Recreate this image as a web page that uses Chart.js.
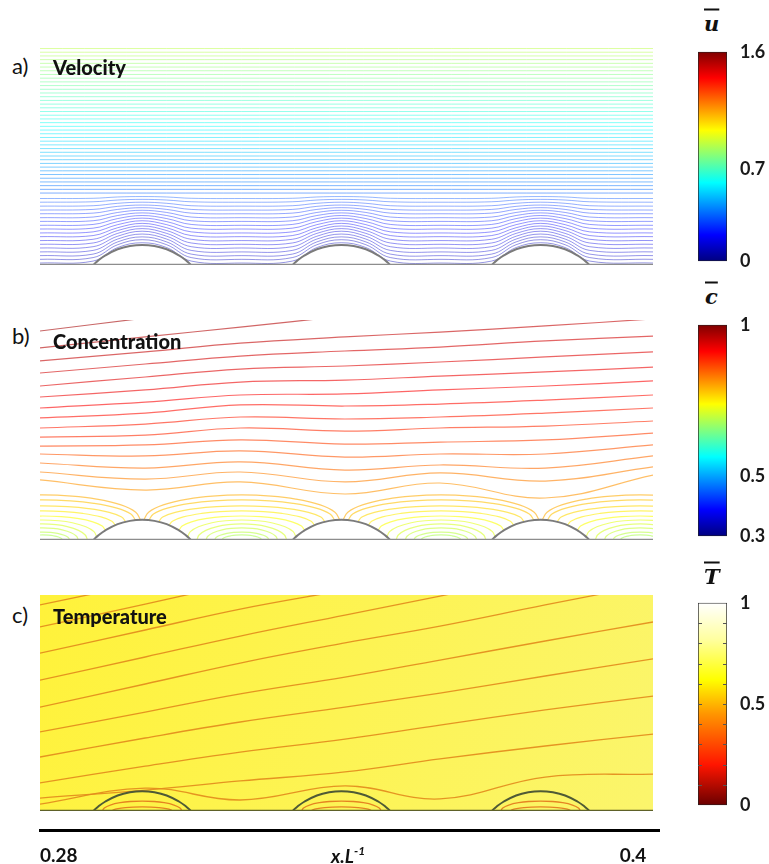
<!DOCTYPE html>
<html>
<head>
<meta charset="utf-8">
<script src="https://cdn.jsdelivr.net/npm/chart.js@4.4.1/dist/chart.umd.min.js"></script>
<style>
  body { margin: 0; background: #fff; }
  #page { position: relative; width: 769px; height: 864px; overflow: hidden; font-family: Lato, "Open Sans", sans-serif; color: #111; }
  canvas { position: absolute; }
  .lbl { position: absolute; transform: translateY(-50%); white-space: nowrap; line-height: 1; }
  .tag { font-size: 22px; }
  .name { font-size: 20px; font-weight: 900; }
  .sym { font-family: "DejaVu Serif", serif; font-weight: bold; font-style: italic; font-size: 21px; text-decoration: overline; }
  .axt { font-size: 19px; font-weight: bold; font-style: italic; }
</style>
</head>
<body>
<div id="page">
  <canvas id="velChart" width="621" height="226" style="left:36px;top:43px"></canvas>
  <canvas id="concChart" width="621" height="228" style="left:36px;top:316px"></canvas>
  <canvas id="tempChart" width="621" height="224" style="left:36px;top:591px"></canvas>
  <canvas id="velBar" width="79" height="241" style="left:690px;top:36px"></canvas>
  <canvas id="concBar" width="79" height="243" style="left:690px;top:309px"></canvas>
  <canvas id="tempBar" width="79" height="234" style="left:690px;top:587px"></canvas>
  <canvas id="axisChart" width="634" height="64" style="left:26px;top:798px"></canvas>

  <div class="lbl tag" style="left:12px;top:66px">a)</div>
  <div class="lbl name" style="left:53px;top:67px">Velocity</div>
  <div class="lbl tag" style="left:12px;top:336px">b)</div>
  <div class="lbl name" style="left:53px;top:341px">Concentration</div>
  <div class="lbl tag" style="left:12px;top:615px">c)</div>
  <div class="lbl name" style="left:53px;top:616px">Temperature</div>
  <div class="lbl sym" style="left:704px;top:23px">u</div>
  <div class="lbl sym" style="left:705px;top:296px">c</div>
  <div class="lbl sym" style="left:704px;top:576px">T</div>
  <div class="lbl axt" style="left:331px;top:855px">x.L<sup style="font-size:12px">-1</sup></div>
</div>
<script>
// ---------- geometry of the wall (x in x.L^-1, heights in % of the window) ----------
const bumpCentres = [0.300, 0.339, 0.378];
const bumpHalfWidth = 0.0096;
const bumpProfileU = [-1, -0.9, -0.75, -0.5, -0.25, 0, 0.25, 0.5, 0.75, 0.9, 1];
const bumpProfileH = [0, 2.0, 4.4, 7.2, 8.7, 9.2, 8.7, 7.2, 4.4, 2.0, 0];
// half-ellipse used for the closed contour loops
const archProfileU = [-1, -0.95, -0.8, -0.55, -0.3, 0, 0.3, 0.55, 0.8, 0.95, 1];
const archProfileV = [0, 0.31, 0.6, 0.835, 0.954, 1, 0.954, 0.835, 0.6, 0.31, 0];

// ---------- a) velocity streamlines ----------
const velGridX = [0.280, 0.2904, 0.2952, 0.300, 0.3048, 0.3096, 0.3195, 0.3294, 0.3342, 0.339,
                  0.3438, 0.3486, 0.3585, 0.3684, 0.3732, 0.378, 0.3828, 0.3876, 0.400];
const velGridKind = [0, 1, 2, 3, 2, 1, 0, 1, 2, 3, 2, 1, 0, 1, 2, 3, 2, 1, 0]; // gap, foot, flank, crest
const velWavy = [
  [0.9, 1.8, 8.0, 10.2], [2.6, 3.4, 9.3, 11.6], [4.3, 5.0, 10.6, 12.9], [6.0, 6.7, 11.9, 14.2],
  [7.8, 8.4, 13.2, 15.5], [9.5, 10.1, 14.5, 16.7], [11.2, 11.8, 15.8, 17.9], [13.0, 13.5, 17.1, 19.1],
  [14.7, 15.2, 18.5, 20.3], [16.5, 16.9, 19.9, 21.5], [18.2, 18.6, 21.3, 22.7], [20.0, 20.3, 22.7, 23.9],
  [21.7, 22.0, 24.1, 25.1], [23.5, 23.8, 25.5, 26.3], [25.2, 25.5, 26.9, 27.5], [27.0, 27.2, 28.3, 28.8],
  [28.8, 29.0, 29.8, 30.1], [30.5, 30.6, 31.2, 31.4]
];
const velFlat = [33.0, 34.7, 36.4, 38.1, 39.8, 41.5, 43.2, 44.9, 46.6, 48.3, 50.0, 51.7, 53.4, 55.1,
  56.8, 58.5, 60.2, 61.9, 63.6, 65.3, 67.0, 68.7, 70.4, 72.1, 73.8, 75.5, 77.2, 78.9, 80.6, 82.3,
  84.0, 85.7, 87.4, 89.1, 90.8, 92.5, 94.2, 95.9, 97.6, 99.3];
const velSpeedBottom = 0.08, velSpeedTop = 0.9;   // u at the wall and at the top of the window
const velTicks = [0, 0.7, 1.6];

// ---------- b) concentration contours ----------
const contGridX = [0.280, 0.3006, 0.3192, 0.3397, 0.3583, 0.3789, 0.400];
const concLines = [
  [95.0, 100.9, null, null, null, null, null],
  [87.3, 92.3, 96.8, 101.8, null, null, null],
  [81.4, 85.5, 89.5, 92.3, 94.5, 97.3, 100.5],
  [75.9, 80.0, 83.6, 85.9, 87.7, 90.5, 92.7],
  [70.0, 74.1, 77.7, 79.1, 80.9, 83.2, 85.5],
  [65.0, 68.2, 71.8, 72.7, 74.5, 76.4, 78.6],
  [60.0, 62.7, 65.9, 66.4, 68.2, 70.0, 72.3],
  [55.5, 57.7, 61.4, 60.9, 61.8, 63.6, 65.9],
  [50.9, 52.7, 55.9, 55.0, 55.9, 57.7, 60.0],
  [46.8, 47.7, 50.9, 49.5, 50.9, 51.8, 54.1],
  [42.7, 43.2, 45.5, 43.6, 44.5, 45.5, 48.6],
  [39.1, 38.2, 40.5, 37.7, 39.1, 39.1, 43.2],
  [35.0, 32.7, 35.5, 31.8, 34.1, 32.7, 38.2],
  [30.9, 27.7, 30.9, 26.4, 30.5, 26.8, 33.2],
  [27.3, 22.7, 26.4, 20.9, 25.9, 19.1, 29.5]
];
const concLineLevels = [0.975, 0.965, 0.955, 0.945, 0.935, 0.925, 0.915, 0.905, 0.895, 0.885, 0.87, 0.855, 0.84, 0.825, 0.81];
const concGapCentres = [0.2805, 0.3195, 0.3585, 0.3975];
const concArches = [ // [apex, half width, foot height]
  [2.3, 0.0039, 0], [3.6, 0.0053, 0], [5.5, 0.0070, 0], [7.3, 0.0088, 0], [9.1, 0.0106, 1.4],
  [10.9, 0.0123, 4.3], [13.2, 0.0143, 6.4], [15.5, 0.0163, 8.2], [18.2, 0.0182, 9.0], [20.5, 0.0192, 9.1]
];
const concArchLevels = [0.68, 0.69, 0.70, 0.71, 0.72, 0.735, 0.75, 0.765, 0.78, 0.795];
const concTicks = [0.3, 0.5, 1];

// ---------- c) temperature contours ----------
const tempLines = [
  [95.4, 105.6, null, null, null, null, null],
  [85.2, 95.8, 105.6, null, null, null, null],
  [73.1, 83.8, 93.5, 102.3, null, null, null],
  [60.6, 71.3, 81.0, 90.7, 99.5, 109.3, null],
  [48.1, 58.8, 68.5, 77.8, 85.6, 95.4, 105.1],
  [36.6, 45.8, 54.2, 62.0, 69.9, 78.7, 87.5],
  [25.0, 33.8, 41.2, 48.1, 54.6, 62.5, 70.4],
  [13.0, 20.8, 27.3, 33.3, 39.8, 46.8, 53.2],
  [6.0, 9.7, 13.9, 18.1, 24.1, 30.1, 35.6],
  [3.2, 10.6, 5.1, 11.6, 5.6, 15.7, 17.1]
];
const tempArcs = [[4.6, 0.0078], [1.9, 0.0059]]; // loops inside each element: [apex, half width]
const tempTicks = [0, 0.5, 1];
const tempMinorTicks = [0.1, 0.2, 0.3, 0.4, 0.5, 0.6, 0.7, 0.8, 0.9];

const jetStops = [[0, '#00007f'], [0.125, '#0000ff'], [0.375, '#00ffff'], [0.625, '#ffff00'], [0.875, '#ff0000'], [1, '#7f0000']];
const hotStops = [[0, '#6a0000'], [0.2, '#ff1500'], [0.45, '#ff9500'], [0.62, '#ffff00'], [0.82, '#ffffa0'], [1, '#ffffff']];

// ---------- helpers ----------
const clamp = v => Math.max(0, Math.min(1, v));
function jet(t, alpha) {
  const r = clamp(1.5 - Math.abs(4 * t - 3)), g = clamp(1.5 - Math.abs(4 * t - 2)), b = clamp(1.5 - Math.abs(4 * t - 1));
  return `rgba(${Math.round(r * 255)},${Math.round(g * 255)},${Math.round(b * 255)},${alpha})`;
}
function velColour(h) {
  const u = velSpeedBottom + (velSpeedTop - velSpeedBottom) * h / 100;
  return jet(u / 1.6, h < 32 ? 0.42 : 0.5);
}
const concColour = c => jet((c - 0.3) / 0.7, 0.6);
const series = (xs, ys) => xs.map((x, i) => ({ x, y: ys[i] }));

function stream(data, colour, width) {
  return { data, borderColor: colour, borderWidth: width || 1, tension: 0.4, spanGaps: false };
}
function baseline(colour) {
  return { data: [{ x: 0.28, y: 0 }, { x: 0.4, y: 0 }], borderColor: colour, borderWidth: 2.5, tension: 0 };
}
function bump(c, line, fillColour) {
  return {
    data: bumpProfileU.map((u, i) => ({ x: c + u * bumpHalfWidth, y: bumpProfileH[i] })),
    borderColor: line, borderWidth: 2, tension: 0.4,
    fill: fillColour ? 'origin' : false, backgroundColor: fillColour || 'transparent'
  };
}
function arch(centre, apex, half, foot) {
  return archProfileU.map((u, i) => ({ x: centre + u * half, y: foot + (apex - foot) * archProfileV[i] }));
}

const panelBg = {
  id: 'panelBg',
  beforeDatasetsDraw(chart, args, opts) {
    if (!opts || !opts.from) return;
    const { ctx, chartArea: a } = chart;
    const g = ctx.createLinearGradient(a.left, a.top, a.right, a.bottom);
    g.addColorStop(0, opts.from);
    g.addColorStop(1, opts.to);
    ctx.save();
    ctx.fillStyle = g;
    ctx.fillRect(a.left, a.top, a.width, a.height);
    ctx.restore();
  }
};

// little inner tick marks on both edges of a colour bar
const minorTicks = {
  id: 'minorTicks',
  afterDatasetsDraw(chart, args, opts) {
    if (!opts || !opts.values) return;
    const { ctx, chartArea: a, scales: { y } } = chart;
    ctx.save();
    ctx.strokeStyle = '#555';
    ctx.lineWidth = 1;
    ctx.beginPath();
    opts.values.forEach(v => {
      const py = Math.round(y.getPixelForValue(v)) + 0.5;
      ctx.moveTo(a.left, py); ctx.lineTo(a.left + 4, py);
      ctx.moveTo(a.right - 4, py); ctx.lineTo(a.right, py);
    });
    ctx.stroke();
    ctx.restore();
  }
};

function panelChart(id, datasets, bg) {
  return new Chart(document.getElementById(id), {
    type: 'line',
    data: { datasets },
    options: {
      animation: false, responsive: false, events: [],
      layout: { padding: 4 },
      elements: { point: { radius: 0 }, line: { fill: false } },
      plugins: { legend: { display: false }, tooltip: { enabled: false }, panelBg: bg || false },
      scales: {
        x: { type: 'linear', min: 0.28, max: 0.4, display: false },
        y: { min: 0, max: 100, display: false }
      }
    },
    plugins: [panelBg]
  });
}

function colourBar(id, min, max, ticks, stops, minor) {
  return new Chart(document.getElementById(id), {
    type: 'bar',
    data: {
      labels: [''],
      datasets: [{
        data: [[min, max]],
        backgroundColor: ctx => {
          const a = ctx.chart.chartArea;
          if (!a) return '#ccc';
          const g = ctx.chart.ctx.createLinearGradient(0, a.bottom, 0, a.top);
          stops.forEach(([p, c]) => g.addColorStop(p, c));
          return g;
        },
        borderColor: '#222', borderWidth: 1, borderSkipped: false,
        barPercentage: 1, categoryPercentage: 1
      }]
    },
    options: {
      animation: false, responsive: false, events: [],
      layout: { padding: { left: 8, top: 10, bottom: 10, right: 0 } },
      plugins: { legend: { display: false }, tooltip: { enabled: false }, minorTicks: minor ? { values: minor } : false },
      scales: {
        x: { display: false },
        y: {
          position: 'right', min, max,
          afterBuildTicks: s => { s.ticks = ticks.map(v => ({ value: v })); },
          afterFit: s => { s.width = 42; },
          grid: { display: false }, border: { display: false },
          ticks: { color: '#1a1a1a', padding: 5, font: { family: 'Lato', weight: 'bold', size: 18 }, callback: v => String(v) }
        }
      }
    },
    plugins: [minorTicks]
  });
}

// ---------- a) ----------
const velSets = [baseline('#8d8d8d')];
bumpCentres.forEach(c => velSets.push(bump(c, '#7b7b7b', '#ffffff')));
velWavy.forEach(row => velSets.push(stream(series(velGridX, velGridKind.map(k => row[k])), velColour(row[0]))));
velFlat.forEach(h => velSets.push(stream([{ x: 0.28, y: h }, { x: 0.4, y: h }], velColour(h))));
panelChart('velChart', velSets);

// ---------- b) ----------
const concSets = [baseline('#8d8d8d')];
bumpCentres.forEach(c => concSets.push(bump(c, '#7b7b7b', '#ffffff')));
concLines.forEach((ys, i) => concSets.push(stream(series(contGridX, ys), concColour(concLineLevels[i]), 1.2)));
concGapCentres.forEach(gc => concArches.forEach(([apex, half, foot], i) =>
  concSets.push(stream(arch(gc, apex, half, foot), concColour(concArchLevels[i]), 1.2))));
panelChart('concChart', concSets);

// ---------- c) ----------
const tempSets = [baseline('#5e6128')];
bumpCentres.forEach(c => tempSets.push(bump(c, '#4f5a35', null)));
tempLines.forEach(ys => tempSets.push(stream(series(contGridX, ys), 'rgba(226,138,28,0.9)', 1.3)));
bumpCentres.forEach(c => tempArcs.forEach(([apex, half]) =>
  tempSets.push(stream(arch(c, apex, half, 0), 'rgba(226,120,28,0.9)', 1.3))));
panelChart('tempChart', tempSets, { from: '#fff23a', to: '#fbf56c' });

// ---------- colour bars ----------
colourBar('velBar', 0, 1.6, velTicks, jetStops);
colourBar('concBar', 0.3, 1, concTicks, jetStops);
colourBar('tempBar', 0, 1, tempTicks, hotStops, tempMinorTicks);

// ---------- shared x axis ----------
const axisTicks = [0.28, 0.4];
new Chart(document.getElementById('axisChart'), {
  type: 'line',
  data: { datasets: [] },
  options: {
    animation: false, responsive: false, events: [],
    layout: { padding: 0 },
    plugins: { legend: { display: false }, tooltip: { enabled: false } },
    scales: {
      x: {
        type: 'linear', min: 0.28, max: 0.4026,
        afterBuildTicks: s => { s.ticks = axisTicks.map(v => ({ value: v })); },
        grid: { display: false, drawTicks: false },
        border: { display: true, color: '#000', width: 3 },
        ticks: { align: 'inner', padding: 14, color: '#111', font: { family: 'Lato', weight: 'bold', size: 19 }, callback: v => String(v) }
      },
      y: { display: false }
    }
  }
});
</script>
</body>
</html>
